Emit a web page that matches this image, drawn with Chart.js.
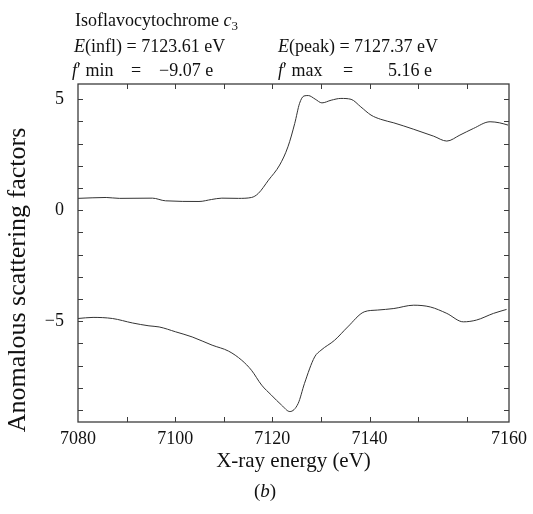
<!DOCTYPE html>
<html>
<head>
<meta charset="utf-8">
<script src="https://cdn.jsdelivr.net/npm/chart.js@4/dist/chart.umd.min.js"></script>
<style>
  html, body { margin:0; padding:0; background:#fff; }
  #wrap { position:relative; width:533px; height:514px; overflow:hidden; font-family:"Liberation Serif","Times New Roman",serif; color:#111; }
  #c { position:absolute; left:0; top:0; }
  .t { position:absolute; white-space:nowrap; font-size:18px; line-height:20px; }
  .ytitle { position:absolute; width:340px; height:30px; line-height:30px; font-size:26px; text-align:center; transform:rotate(-90deg); white-space:nowrap; }
  i { font-style:italic; }
</style>
</head>
<body>
<div id="wrap">
  <canvas id="c" width="533" height="514"></canvas>
  <div class="t" style="left:75px;top:10px;">Isoflavocytochrome <i>c</i><sub style="font-size:13px;vertical-align:-4px;line-height:0">3</sub></div>
  <div class="t" style="left:74px;top:36px;"><i>E</i>(infl) = 7123.61 eV</div>
  <div class="t" style="left:278px;top:36px;"><i>E</i>(peak) = 7127.37 eV</div>
  <div class="t" style="left:72px;top:60px;"><i>f</i>′ min</div>
  <div class="t" style="left:131px;top:60px;">=</div>
  <div class="t" style="left:159px;top:60px;">−9.07 e</div>
  <div class="t" style="left:278px;top:60px;"><i>f</i>′ max</div>
  <div class="t" style="left:343px;top:60px;">=</div>
  <div class="t" style="left:388px;top:60px;">5.16 e</div>
  <div class="ytitle" style="left:-153px;top:265px;">Anomalous scattering factors</div>
  <div class="t" style="left:254px;top:481px;font-size:19px;">(<i>b</i>)</div>
</div>
<script>
// ---- data ----
const energiesFpp = [7080, 7085.8, 7088.5, 7095.3, 7098, 7104.9, 7107.5, 7109.6, 7113, 7115.7, 7117.1, 7119.2, 7121.5, 7123.2, 7124.6, 7125.6, 7126.5, 7127.4, 7128.8, 7130.2, 7132.1, 7134.1, 7136.2, 7138.2, 7140.3, 7142.3, 7145.0, 7149.1, 7153.2, 7155.9, 7158.6, 7161.4, 7164.8, 7166.8, 7168.5];
const fppValues   = [0.53, 0.57, 0.53, 0.54, 0.42, 0.39, 0.48, 0.54, 0.53, 0.57, 0.75, 1.35, 2.03, 2.85, 3.90, 4.81, 5.14, 5.16, 5.00, 4.83, 4.95, 5.03, 4.99, 4.65, 4.28, 4.09, 3.93, 3.64, 3.33, 3.11, 3.38, 3.68, 3.98, 3.93, 3.83];
const energiesFp  = [7080, 7083.1, 7087.1, 7091.2, 7094.6, 7096.7, 7100.1, 7103.5, 7107.6, 7111.0, 7113.7, 7115.7, 7117.8, 7119.8, 7121.9, 7123.6, 7125.3, 7126.6, 7128.7, 7130.0, 7132.8, 7135.5, 7138.9, 7141.6, 7145.0, 7149.1, 7152.5, 7155.9, 7159.3, 7162.0, 7165.5, 7168.2];
const fpValues    = [-4.88, -4.83, -4.88, -5.08, -5.21, -5.26, -5.48, -5.71, -6.08, -6.35, -6.76, -7.21, -7.88, -8.33, -8.78, -9.07, -8.71, -7.81, -6.61, -6.31, -5.86, -5.26, -4.58, -4.50, -4.43, -4.28, -4.36, -4.65, -5.03, -4.95, -4.65, -4.47];
const xTickValues = [7080, 7100, 7120, 7140];
const xTickLabels = ['7080', '7100', '7120', '7140', '7160'];
const yTickValues = [-5, 0, 5];
const yTickLabels = ['\u22125', '0', '5'];
const xMin = 7080, xMax = 7168.7, yMin = -9.54, yMax = 5.68;

const toPoints = (xs, ys) => xs.map((x, i) => ({x: x, y: ys[i]}));

const frameTicks = {
  id: 'frameTicks',
  afterDraw(chart) {
    const {ctx, chartArea: a, scales: {x, y}} = chart;
    ctx.save();
    ctx.strokeStyle = '#3c3c3c';
    ctx.lineWidth = 1.3;
    ctx.strokeRect(a.left, a.top, a.right - a.left, a.bottom - a.top);
    ctx.lineWidth = 1;
    ctx.beginPath();
    for (let v = xMin + 10; v <= 7160; v += 10) {
      const px = Math.round(x.getPixelForValue(v)) + 0.5;
      ctx.moveTo(px, a.bottom); ctx.lineTo(px, a.bottom - 5);
      ctx.moveTo(px, a.top); ctx.lineTo(px, a.top + 5);
    }
    for (let v = -9; v <= 5; v += 1) {
      const py = Math.round(y.getPixelForValue(v)) + 0.5;
      ctx.moveTo(a.left, py); ctx.lineTo(a.left + 5, py);
      ctx.moveTo(a.right, py); ctx.lineTo(a.right - 5, py);
    }
    ctx.stroke();
    ctx.restore();
  }
};

new Chart(document.getElementById('c'), {
  type: 'line',
  data: {
    datasets: [
      { label: "f''", data: toPoints(energiesFpp, fppValues), borderColor: '#333', borderWidth: 1, pointRadius: 0, fill: false, cubicInterpolationMode: 'monotone' },
      { label: "f'", data: toPoints(energiesFp, fpValues), borderColor: '#333', borderWidth: 1, pointRadius: 0, fill: false, cubicInterpolationMode: 'monotone' }
    ]
  },
  options: {
    responsive: false,
    animation: false,
    devicePixelRatio: 1,
    layout: { padding: { top: 84, right: 20, bottom: 40, left: 0 } },
    plugins: { legend: { display: false }, tooltip: { enabled: false } },
    scales: {
      x: {
        type: 'linear', min: xMin, max: xMax,
        grid: { display: false, drawTicks: false },
        border: { display: false },
        afterBuildTicks: s => { s.ticks = xTickValues.concat([s.max]).map(v => ({value: v})); },
        afterFit: s => { s.height = 52; },
        ticks: {
          autoSkip: false, maxRotation: 0, padding: 6, color: '#111',
          font: { family: 'Liberation Serif', size: 18 },
          callback: (v, i) => xTickLabels[i]
        },
        title: { display: true, text: 'X-ray energy (eV)', color: '#111', padding: 0, font: { family: 'Liberation Serif', size: 21 } }
      },
      y: {
        type: 'linear', min: yMin, max: yMax,
        grid: { display: false, drawTicks: false },
        border: { display: false },
        afterBuildTicks: s => { s.ticks = yTickValues.map(v => ({value: v})); },
        afterFit: s => { s.width = 78; },
        ticks: {
          autoSkip: false, padding: 14, color: '#111',
          font: { family: 'Liberation Serif', size: 18 },
          callback: (v, i) => yTickLabels[i]
        }
      }
    }
  },
  plugins: [frameTicks]
});
</script>
</body>
</html>
